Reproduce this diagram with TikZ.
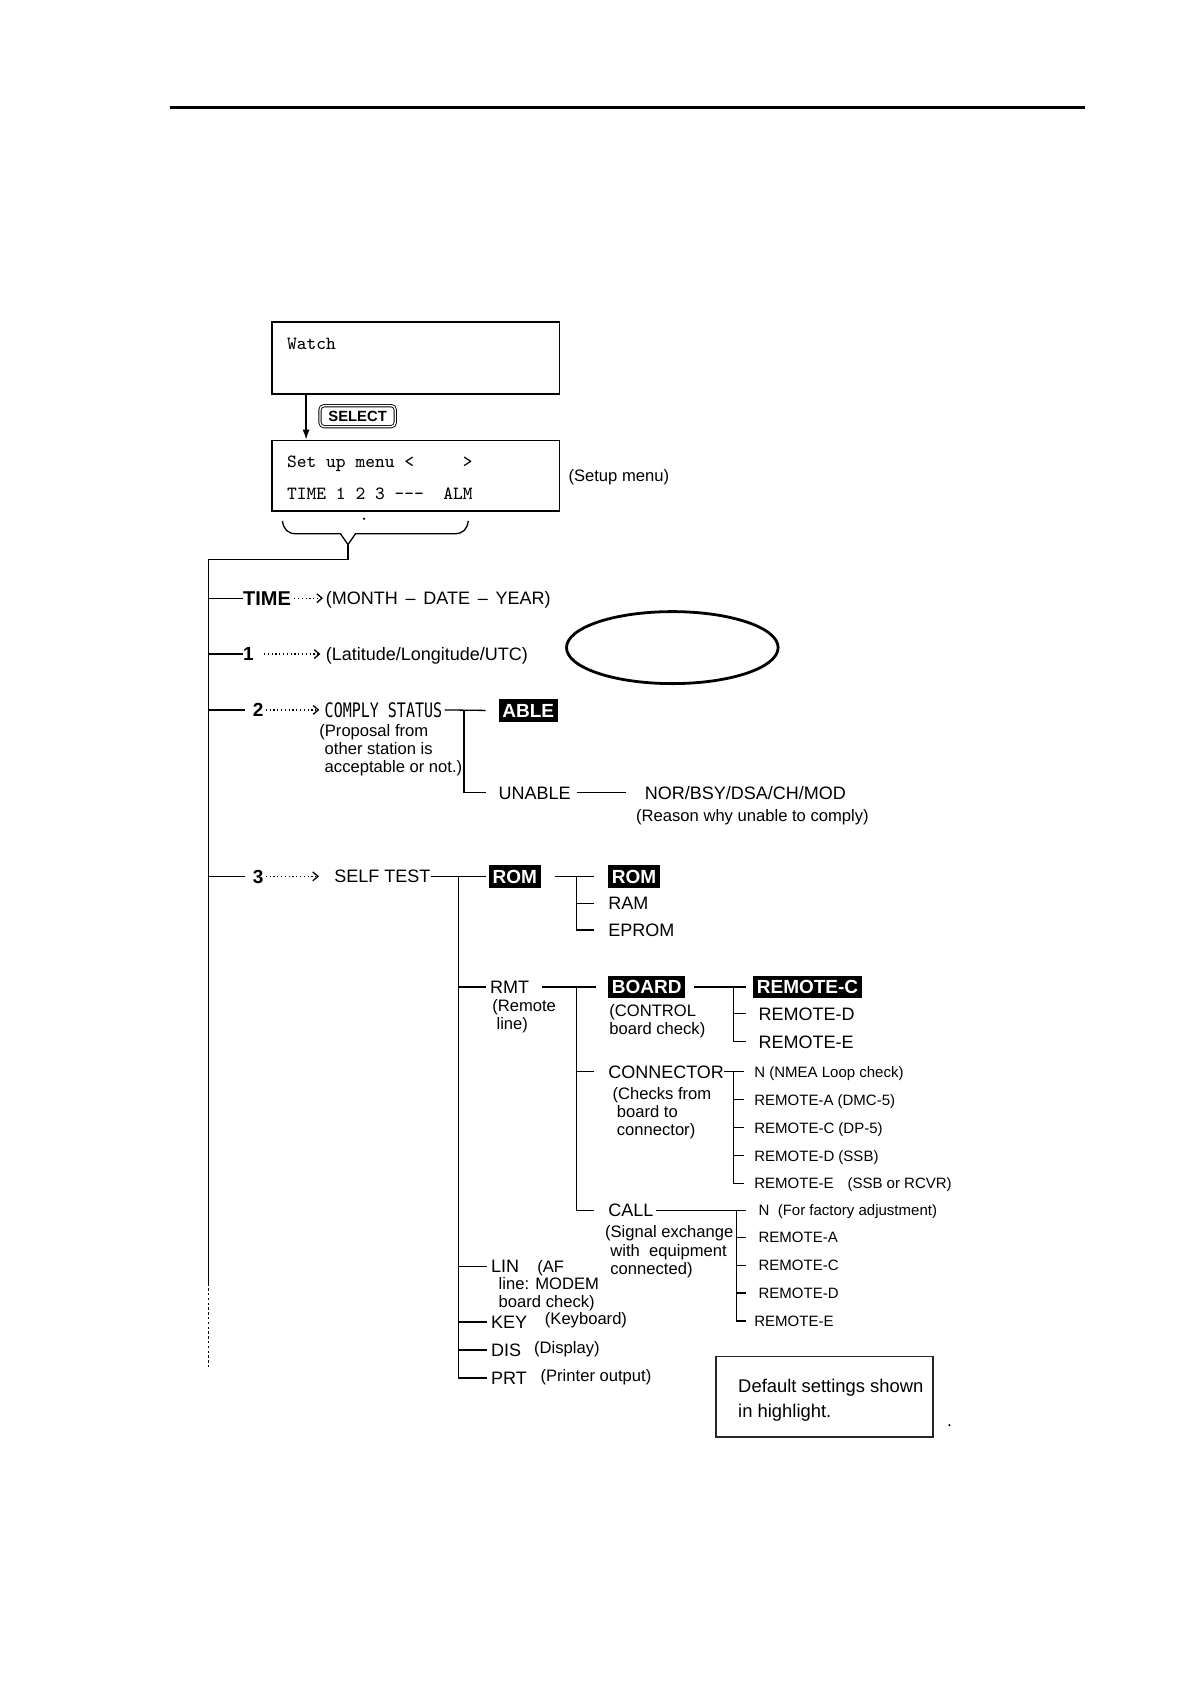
\documentclass[tikz,border=0pt]{standalone}
\usepackage{fontspec}
\setmainfont{Liberation Sans}
\newfontfamily\dmono{DejaVu Sans Mono}
\usepackage{graphicx}
\usetikzlibrary{arrows.meta,shapes.geometric,fit}
\begin{document}
\begin{tikzpicture}[x=0.537pt,y=-0.537pt,
 tree/.style={line width=0.65pt},
 darr/.style={line width=0.7pt, dash pattern=on 0.6pt off 1.3pt, -{Straight Barb[length=2.6pt,width=4.4pt,line width=0.65pt]}},
 lbl/.style={inner sep=0pt, anchor=west, font=\fontsize{9}{11}\selectfont, text height=6.4pt, text depth=0pt},
 desc/.style={inner sep=0pt, anchor=west, font=\fontsize{8.3}{10}\selectfont, text height=6pt, text depth=0pt},
 sml/.style={inner sep=0pt, anchor=west, font=\fontsize{7.5}{9}\selectfont, text height=5.4pt, text depth=0pt},
 num/.style={inner sep=0pt, anchor=west, font=\bfseries\fontsize{9.5}{11}\selectfont, text height=6.8pt, text depth=0pt},
 hl/.style={anchor=west, fill=black, text=white, font=\bfseries\fontsize{9.5}{11}\selectfont, inner xsep=1.8pt, inner ysep=2.3pt, text height=6.8pt, text depth=0pt},
 lcd/.style={inner sep=0pt, anchor=west, font=\ttfamily\fontsize{9.3}{11}\selectfont, text height=5.7pt, text depth=0pt},
 scrbox/.style={draw, line width=0.8pt, inner sep=0pt}]
\useasboundingbox (0,0) rectangle (1108,1568);

% top rule
\draw[line width=1.3pt] (158,100) -- (1010,100);

% screens
\node[scrbox, fit={(253,300)(521,367)}] (watch) {};
\node[lcd] (wtxt) at (267,320) {Watch};
\node[scrbox, fit={(253,410)(521,476)}] (menu) {};
\node[lcd] (m1) at (267,430) {Set up menu <\ \ \ \ \ >};
\node[lcd] (m2) at (267,460) {TIME 1 2 3 -{}-{}-\ \ ALM};
\node[desc] (setup) at (529,443) {(Setup menu)};
\node[draw, double, double distance=0.7pt, line width=0.45pt, rounded corners=2pt,
      minimum width=37.6pt, minimum height=10.5pt, inner sep=0pt,
      font=\bfseries\fontsize{7.4}{8}\selectfont] (sel) at (333,387.5) {SELECT};
\coordinate (ax) at (285,0);
\draw[tree, -{Latex[length=5pt,width=3.6pt]}] (watch.south -| ax) -- (menu.north -| ax);
\fill (339,483) circle (1.1);

% brace and trunk
\draw[tree] (263,485) .. controls (264,493) and (268,497) .. (276,497) -- (317,497) -- (324,507)
   -- (331,497) -- (423,497) .. controls (431,497) and (435,493) .. (436,485);
\coordinate (tip) at (324,507);
\coordinate (trunk) at (194,521);
\coordinate (trunkm) at (194,1195);
\coordinate (trunke) at (194,1275);
\draw[tree] (tip) |- (trunk) -- (trunkm);
\draw[tree, dash pattern=on 1.2pt off 1.2pt] (trunkm) -- (trunke);

% ellipse
\node[draw, ellipse, line width=1.4pt, minimum width=105.8pt, minimum height=36pt, inner sep=0pt] (oval) at (626,603) {};

% TIME row
\node[inner sep=0pt, anchor=west, font=\bfseries\fontsize{10}{12}\selectfont, text height=7.2pt, text depth=0pt] (tTIME) at (226,557) {TIME};
\node[lbl] (tMDY) at (303,557) {(MONTH\hspace{3.9pt}–\hspace{3.9pt}DATE\hspace{3.9pt}–\hspace{3.9pt}YEAR)};
\draw[tree] (trunk |- tTIME.west) -- (tTIME.west);
\draw[darr] ([xshift=1.5pt]tTIME.east) -- ([xshift=-1.2pt]tMDY.west);

% row 1
\node[num] (n1) at (226,609) {1};
\node[lbl] (tLL) at (303,609) {(Latitude/Longitude/UTC)};
\draw[tree] (trunk |- n1.west) -- (n1.west);
\draw[darr] ([xshift=5pt]n1.east) -- ([xshift=-2.5pt]tLL.west);

% row 2
\node[num] (n2) at (235,661) {2};
\node[inner sep=0pt, anchor=west] (comply) at (302,661) {\scalebox{0.75}[1]{\dmono\fontsize{10}{12}\selectfont COMPLY STATUS}};
\node[hl] (able) at (464,661.5) {ABLE};
\node[desc] (p1) at (297,680) {(Proposal from};
\node[desc] (p2) at (302,697) {other station is};
\node[desc] (p3) at (302,714) {acceptable or not.)};
\node[lbl] (unable) at (464,738) {UNABLE};
\node[lbl] (nor) at (600,738) {NOR/BSY/DSA/CH/MOD};
\node[desc] (reason) at (592,759) {(Reason why unable to comply)};
\coordinate (v2) at (432,0);
\draw[tree] (trunk |- n2.west) -- ([xshift=-3.5pt]n2.west);
\draw[darr] ([xshift=1pt]n2.east) -- ([xshift=-2.5pt]comply.west);
\draw[tree] ([xshift=1pt]comply.east) -- ([xshift=-6.4pt]able.west);
\draw[tree] (v2 |- comply.east) |- ([xshift=-6.4pt]unable.west);
\draw[tree] ([xshift=2.7pt]unable.east) -- ([xshift=-9pt]nor.west);

% row 3
\node[num] (n3) at (235,816) {3};
\node[lbl] (selft) at (311,816) {SELF TEST};
\node[hl] (rom) at (455,816) {ROM};
\node[hl] (rom2) at (566,816) {ROM};
\node[lbl] (ram) at (566,841) {RAM};
\node[lbl] (eprom) at (566,866) {EPROM};
\coordinate (v3) at (427,0);
\coordinate (vrom) at (537,0);
\coordinate (vboard) at (683,0);
\coordinate (vcall) at (686,0);
\draw[tree] (trunk |- n3.west) -- ([xshift=-3.5pt]n3.west);
\draw[darr] ([xshift=1pt]n3.east) -- ([xshift=-7.5pt]selft.west);
\draw[tree] (selft.east) -- ([xshift=-1.5pt]rom.west);
\draw[tree] ([xshift=7pt]rom.east) -- ([xshift=-7pt]rom2.west);
\draw[tree] (vrom |- rom.east) |- ([xshift=-7pt]eprom.west);
\draw[tree] (vrom |- ram.west) -- ([xshift=-7pt]ram.west);

% RMT
\node[lbl] (rmt) at (456,919) {RMT};
\node[desc] (rmt1) at (458,936) {(Remote};
\node[desc] (rmt2) at (462,953) {line)};
\node[hl] (board) at (566,919) {BOARD};
\node[desc] (b1) at (567,941) {(CONTROL};
\node[desc] (b2) at (567,958) {board check)};
\node[hl] (remc) at (701,919) {REMOTE-C};
\node[lbl] (remd) at (706,944) {REMOTE-D};
\node[lbl] (reme) at (706,970) {REMOTE-E};
\draw[tree] ([xshift=6.4pt]rmt.east) -- ([xshift=-6pt]board.west);
\draw[tree] ([xshift=4pt]board.east) -- ([xshift=-3.2pt]remc.west);
\draw[tree] (vboard |- board.east) |- ([xshift=-6pt]reme.west);
\draw[tree] (vboard |- remd.west) -- ([xshift=-6pt]remd.west);

% CONNECTOR
\node[lbl] (conn) at (566,998) {CONNECTOR};
\node[desc] (c1) at (570,1018) {(Checks from};
\node[desc] (c2) at (574,1035) {board to};
\node[desc] (c3) at (574,1052) {connector)};
\node[sml] (cn) at (702,998) {N (NMEA Loop check)};
\node[sml] (cra) at (702,1024) {REMOTE-A (DMC-5)};
\node[sml] (crc) at (702,1050) {REMOTE-C (DP-5)};
\node[sml] (crd) at (702,1076) {REMOTE-D (SSB)};
\node[sml] (cre) at (702,1102) {REMOTE-E\hspace{7pt}(SSB or RCVR)};
\draw[tree] (vrom |- conn.west) -- ([xshift=-7pt]conn.west);
\draw[tree] (conn.east) -- ([xshift=-4.8pt]cn.west);
\draw[tree] (vboard |- conn.east) |- ([xshift=-4.8pt]cre.west);
\foreach \n in {cra,crc,crd} \draw[tree] (vboard |- \n.west) -- ([xshift=-4.8pt]\n.west);

% CALL
\node[lbl] (call) at (566,1127) {CALL};
\node[desc] (s1) at (563,1147) {(Signal exchange};
\node[desc] (s2) at (568,1164) {with\ \ equipment};
\node[desc] (s3) at (568,1181) {connected)};
\node[sml] (kn) at (706,1127) {N\ \ (For factory adjustment)};
\node[sml] (kra) at (706,1152) {REMOTE-A};
\node[sml] (krc) at (706,1178) {REMOTE-C};
\node[sml] (krd) at (706,1204) {REMOTE-D};
\node[sml] (kre) at (702,1230) {REMOTE-E};
\draw[tree] (vrom |- rmt.east) |- ([xshift=-7pt]call.west);
\draw[tree] ([xshift=1pt]call.east) -- ([xshift=-6pt]kn.west);
\draw[tree] (vcall |- call.east) |- ([xshift=-3.8pt]kre.west);
\foreach \n in {kra,krc,krd} \draw[tree] (vcall |- \n.west) -- ([xshift=-6pt]\n.west);

% LIN KEY DIS PRT
\node[lbl] (lin) at (457,1179) {LIN};
\node[desc] (af) at (500,1179) {(AF};
\node[desc] (l2) at (464,1195) {line: MODEM};
\node[desc] (l3) at (464,1212) {board check)};
\node[lbl] (key) at (457,1231) {KEY};
\node[desc] (keyd) at (507,1228) {(Keyboard)};
\node[lbl] (dis) at (457,1257) {DIS};
\node[desc] (disd) at (497,1255) {(Display)};
\node[lbl] (prt) at (457,1283) {PRT};
\node[desc] (prtd) at (503,1281) {(Printer output)};
\draw[tree] (v3 |- selft.east) |- ([xshift=-2pt]prt.west);
\foreach \n in {rmt,lin,key,dis} \draw[tree] (v3 |- \n.west) -- ([xshift=-2pt]\n.west);

% note box
\node[draw=black!85, line width=0.9pt, fit={(667,1263)(869,1338)}, inner sep=0pt] (defbox) {};
\node[lbl, font=\fontsize{9.2}{11}\selectfont] (def1) at (687,1291) {Default settings shown};
\node[lbl, font=\fontsize{9.2}{11}\selectfont] (def2) at (687,1314) {in highlight.};
\fill (884,1327) circle (1.1);
\end{tikzpicture}
\end{document}
